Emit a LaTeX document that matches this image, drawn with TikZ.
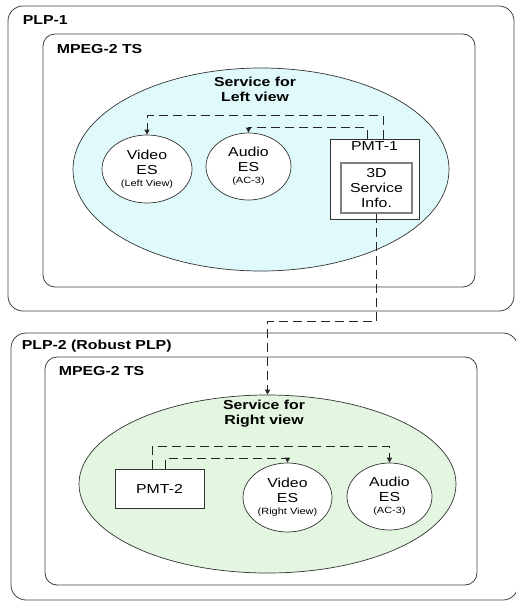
\documentclass[tikz,border=0pt]{standalone}
\usepackage{fontspec}
\setmainfont{Liberation Sans}[FakeStretch=1.22]
\usepackage{xcolor}
\usepackage{tikz}
\usetikzlibrary{positioning,arrows.meta,shapes.geometric,calc}

\definecolor{svcleft}{HTML}{E0F9FB}
\definecolor{svcright}{HTML}{E3F6E0}

\begin{document}
\begin{tikzpicture}[
  x=1pt, y=-1pt,
  font=\fontsize{13}{15}\selectfont,
  plp/.style={draw=black!75, line width=0.8pt, rounded corners=15pt, inner sep=0pt},
  ts/.style={draw=black!75, line width=0.8pt, rounded corners=12pt, inner sep=0pt},
  title/.style={font=\fontsize{13}{15}\selectfont\bfseries, anchor=base west, inner sep=0pt},
  svc/.style={draw=black!80, line width=0.7pt, ellipse, inner sep=0pt},
  svctitle/.style={font=\fontsize{13}{15}\selectfont\bfseries, align=center, inner sep=0pt},
  es/.style={draw=black!80, line width=0.7pt, ellipse, fill=white, align=center, inner sep=0pt},
  pmt/.style={draw=black!80, line width=0.7pt, fill=white, align=center, inner sep=0pt},
  info/.style={draw=black!50, line width=1.3pt, fill=white, align=center, inner sep=0pt},
  link/.style={-{Triangle[length=5pt,width=5pt]}, dash pattern=on 9pt off 5pt, line width=0.8pt, black!85}
]
\useasboundingbox (0,0) rectangle (516,602);

% PLP-1
\node[plp, minimum width=506, minimum height=305] (plp1) at (261,158.5) {};
\node[title] at ([xshift=15pt, yshift=-19pt]plp1.north west) {PLP-1};
\node[ts, minimum width=432, minimum height=253] (ts1) at (259,160.5) {};
\node[title] at ([xshift=14pt, yshift=-19.5pt]ts1.north west) {MPEG-2 TS};
\node[svc, fill=svcleft, minimum width=376, minimum height=203] (svcL) at (261,169.5) {};
\node[svctitle] (svcLt) at (255,89) {Service for\\Left view};

\node[es, minimum width=90, minimum height=68] (videoL) at (147,169)
  {Video\\ES\\[-3pt]{\fontsize{9}{10}\selectfont (Left View)}};
\node[es, minimum width=85, minimum height=67] (audioL) at (248.5,166.5)
  {Audio\\ES\\[-3pt]{\fontsize{9}{10}\selectfont (AC-3)}};
\node[pmt, minimum width=89, minimum height=80,
  label={[anchor=north, inner sep=0pt, yshift=-3pt]north:PMT-1}] (pmt1) at (374.5,179) {};
\node[info, minimum width=71, minimum height=50] (info) at (376.5,188) {3D\\Service\\Info.};

\draw[link] ([xshift=8.5pt]pmt1.north) -- ++(0,-23) -| (videoL.north);
\draw[link] ([xshift=-7.5pt]pmt1.north) -- ++(0,-11) -| (audioL.north);

% PLP-2
\node[plp, minimum width=507, minimum height=267] (plp2) at (264.5,466.5) {};
\node[title] at ([xshift=11pt, yshift=-16.5pt]plp2.north west) {PLP-2 (Robust PLP)};
\node[ts, minimum width=432, minimum height=228] (ts2) at (261,471) {};
\node[title] at ([xshift=14pt, yshift=-18.5pt]ts2.north west) {MPEG-2 TS};
\node[svc, fill=svcright, minimum width=377, minimum height=178] (svcR) at (267.5,484) {};
\node[svctitle] (svcRt) at (264,414) {Service for\\Right view};

\node[pmt, minimum width=89, minimum height=39] (pmt2) at (159.5,488.5) {PMT-2};
\node[es, minimum width=89, minimum height=69] (videoR) at (287.5,497.5)
  {Video\\ES\\[-3pt]{\fontsize{9}{10}\selectfont (Right View)}};
\node[es, minimum width=85, minimum height=67] (audioR) at (389.5,496.5)
  {Audio\\ES\\[-3pt]{\fontsize{9}{10}\selectfont (AC-3)}};

\draw[link] ([xshift=-7.5pt]pmt2.north) -- ++(0,-22) -| (audioR.north);
\draw[link] ([xshift=5.5pt]pmt2.north) -- ++(0,-10) -| (videoR.north);

% 3D service info to right view
\coordinate (bend) at (0,321);
\draw[link] (info.south) -- (info.south |- bend) -| (svcR.north);
\end{tikzpicture}
\end{document}
